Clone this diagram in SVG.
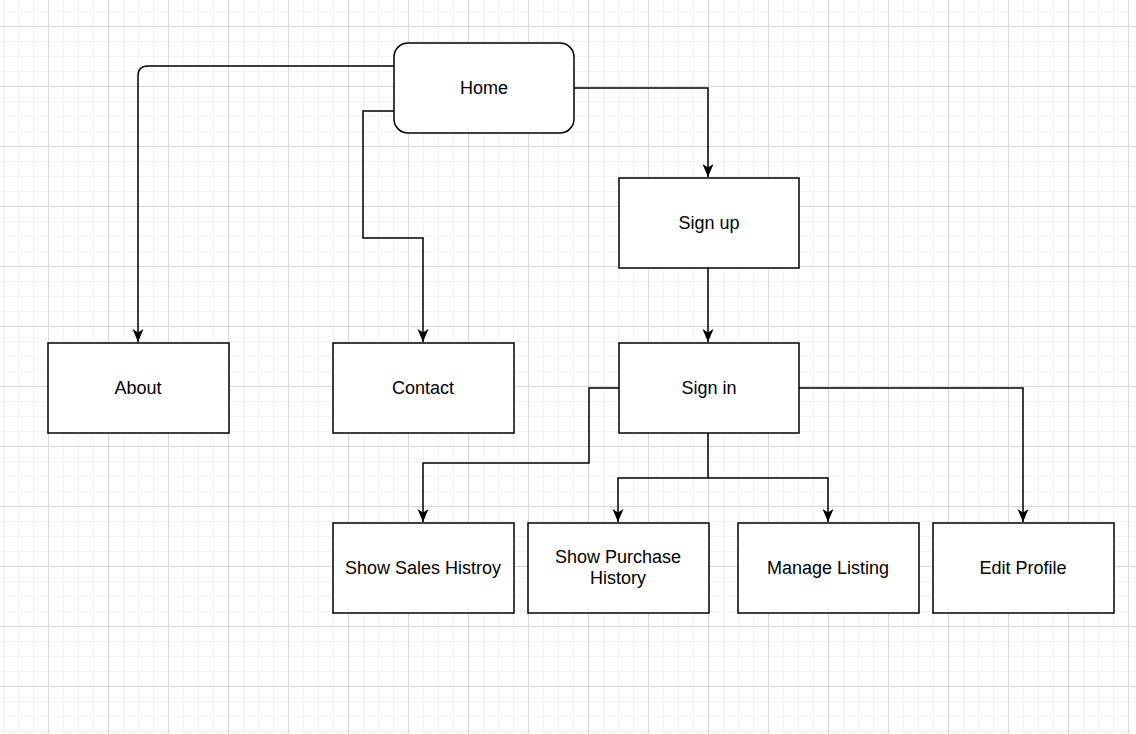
<svg xmlns="http://www.w3.org/2000/svg" width="1136" height="734" viewBox="0 0 1136 734">
<defs>
<pattern id="minor" x="3" y="11" width="15" height="15" patternUnits="userSpaceOnUse">
<path d="M0 0.5H15M0.5 0V15" fill="none" stroke="#f2f2f2" stroke-width="1"/>
</pattern>
<pattern id="major" x="48" y="26" width="60" height="60" patternUnits="userSpaceOnUse">
<path d="M0 0.5H60M0.5 0V60" fill="none" stroke="#dadada" stroke-width="1"/>
</pattern>
<marker id="arr" viewBox="0 0 14 12" refX="13" refY="6" markerWidth="14" markerHeight="12" markerUnits="userSpaceOnUse" orient="auto">
<path d="M0 0.5L13 6L0 11.5L3.5 6Z" fill="#000"/>
</marker>
</defs>
<style>
.box{fill:#fff;stroke:#000;stroke-width:1.5}
.lbl{font-family:"Liberation Sans",Arial,sans-serif;font-size:18px;fill:#000;text-anchor:middle;dominant-baseline:central}
.edge{fill:none;stroke:#000;stroke-width:1.5;marker-end:url(#arr)}
</style>
<rect width="1136" height="734" fill="#fff"/>
<rect width="1136" height="734" fill="url(#minor)"/>
<rect width="1136" height="734" fill="url(#major)"/>
<g id="connectors">
<path class="edge" d="M394 66H148Q138 66 138 76V342"/>
<path class="edge" d="M394 111H363V238H423V342"/>
<path class="edge" d="M574 88H708V177"/>
<path class="edge" d="M708 268V342"/>
<path class="edge" d="M619 388H589V463H423V522"/>
<path class="edge" d="M708 433V478H618V522"/>
<path class="edge" d="M708 478H828V522"/>
<path class="edge" d="M799 388H1023V522"/>
</g>
<g id="home"><rect class="box" x="394" y="43" width="180" height="90" rx="14"/><text class="lbl" x="484" y="88">Home</text></g>
<g id="signup"><rect class="box" x="619" y="178" width="180" height="90"/><text class="lbl" x="709" y="223">Sign up</text></g>
<g id="signin"><rect class="box" x="619" y="343" width="180" height="90"/><text class="lbl" x="709" y="388">Sign in</text></g>
<g id="about"><rect class="box" x="48" y="343" width="181" height="90"/><text class="lbl" x="138" y="388">About</text></g>
<g id="contact"><rect class="box" x="333" y="343" width="181" height="90"/><text class="lbl" x="423" y="388">Contact</text></g>
<g id="sales"><rect class="box" x="333" y="523" width="181" height="90"/><text class="lbl" x="423" y="568">Show Sales Histroy</text></g>
<g id="purchase"><rect class="box" x="528" y="523" width="181" height="90"/><text class="lbl" x="618" y="557">Show Purchase</text><text class="lbl" x="618" y="578">History</text></g>
<g id="manage"><rect class="box" x="738" y="523" width="181" height="90"/><text class="lbl" x="828" y="568">Manage Listing</text></g>
<g id="edit"><rect class="box" x="933" y="523" width="181" height="90"/><text class="lbl" x="1023" y="568">Edit Profile</text></g>
</svg>
